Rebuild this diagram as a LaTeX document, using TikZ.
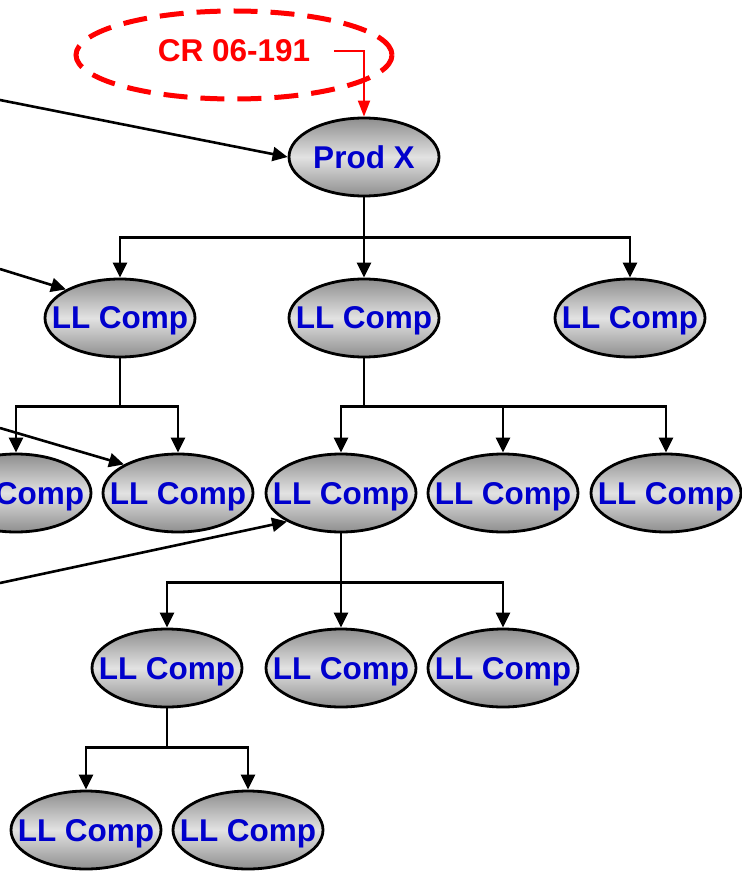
\documentclass[tikz,border=0pt]{standalone}
\usepackage{fontspec}
\setmainfont{Liberation Sans}
\usepackage{xcolor}
\usetikzlibrary{arrows.meta, shapes.geometric, calc, positioning}
\definecolor{compblue}{HTML}{0000CC}
\definecolor{compdark}{HTML}{8E8E8E}
\definecolor{complight}{HTML}{E2E2E2}
\definecolor{crred}{HTML}{FF0000}
\newcommand{\compname}[1]{\makebox[0pt]{#1}}
\tikzset{
  % tree arrow style
  garr/.style={
    line width = 2.6pt
    , -{Triangle[length=15pt, width=14pt]}
  },
}
\tikzset{
  % component node style
  comp/.style={
    ellipse
    , draw
    , line width=2.8pt
    , top color=compdark
    , bottom color=compdark
    , middle color=complight
    , text=compblue
    , font=\fontsize{31.5}{31.5}\selectfont\bfseries
    , text depth=0pt
    , inner sep=0pt
    , minimum width=150pt
    , minimum height=78pt
    %, rounded corners
  },
  % change request style
  crring/.style={
    ellipse
    , draw=crred
    , line width=5pt
    , dash pattern=on 24pt off 13pt
    , minimum width=316pt
    , minimum height=88pt
  },
  crtext/.style={
    text=crred
    , font=\fontsize{31.5}{31.5}\selectfont\bfseries
    , inner sep=0pt
  },
  crarr/.style={
    draw=crred
    , line width=2pt
    , -{Triangle[length=16pt, width=12pt]}
  },
}

\begin{document}
\begin{tikzpicture}[x=1pt, y=-1pt]
        \useasboundingbox (0,0) rectangle (741,872);
        % change request
        \node[crring] (crbox) at (234,55) {};
        \node[crtext] (crlab) at (234,51) {CR 06-191};
        % product and components
        \node[comp] (prod) at (364,157) {\compname{Prod X}};
        \node[comp] (a1) at (120,318) {\compname{LL Comp}};
        \node[comp] (a2) at (364,318) {\compname{LL Comp}};
        \node[comp] (a3) at (630,318) {\compname{LL Comp}};
        \node[comp] (b1) at (16,493) {\compname{LL Comp}};
        \node[comp] (b2) at (178,493) {\compname{LL Comp}};
        \node[comp] (b3) at (341,493) {\compname{LL Comp}};
        \node[comp] (b4) at (503,493) {\compname{LL Comp}};
        \node[comp] (b5) at (666,493) {\compname{LL Comp}};
        \node[comp] (c1) at (167,668) {\compname{LL Comp}};
        \node[comp] (c2) at (341,668) {\compname{LL Comp}};
        \node[comp] (c3) at (503,668) {\compname{LL Comp}};
        \node[comp] (d1) at (86,830) {\compname{LL Comp}};
        \node[comp] (d2) at (248,830) {\compname{LL Comp}};
        % loose ends on the left
        \coordinate (in1) at (0,100);
        \coordinate (in2) at (0,269);
        \coordinate (in3) at (0,428);
        \coordinate (in4) at (0,583);
        % change request arrow
        \draw[crarr]
          ([xshift=24pt]crlab.east)
          -|
          (prod.north);
        % tree
        \foreach \kid in {a1, a2, a3}
          \draw[garr] (prod.south) -- ++(0,40) -| (\kid.north);
        \foreach \kid in {b1, b2}
          \draw[garr] (a1.south) -- ++(0,48) -| (\kid.north);
        \foreach \kid in {b3, b4, b5}
          \draw[garr] (a2.south) -- ++(0,48) -| (\kid.north);
        \foreach \kid in {c1, c2, c3}
          \draw[garr] (b3.south) -- ++(0,49) -| (\kid.north);
        \foreach \kid in {d1, d2}
          \draw[garr] (c1.south) -- ++(0,39) -| (\kid.north);
        % incoming links
        \draw[garr] (in1) to (prod.west);
        \draw[garr] (in2) to (a1.north west);
        \draw[garr] (in3) to (b2.north west);
        \draw[garr] (in4) to (b3.south west);
      \end{tikzpicture}
\end{document}
